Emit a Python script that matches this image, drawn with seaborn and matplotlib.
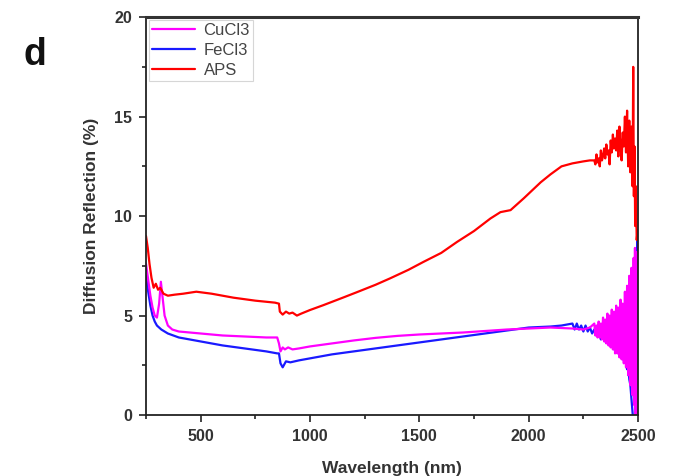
import matplotlib
matplotlib.use("Agg")
import matplotlib.pyplot as plt
import seaborn as sns
import pandas as pd
from matplotlib.ticker import MultipleLocator

# ---- data ----
aps_x = [250, 258, 266, 275, 285, 295, 305, 315, 330, 350, 380, 420, 480, 550, 650, 750, 840,
         858, 862, 875, 890, 905, 920, 940, 960, 1000, 1060, 1150, 1213, 1300, 1366, 1450, 1519,
         1600, 1672, 1750, 1825, 1871, 1917, 1978, 2055, 2100, 2150, 2200, 2250, 2280,
         2300, 2305, 2310, 2315, 2320, 2325, 2330, 2335, 2340, 2345, 2350, 2355, 2360, 2365, 2370,
         2375, 2380, 2385, 2390, 2395, 2400, 2405, 2410, 2415, 2420, 2425, 2430, 2435, 2440, 2445,
         2450, 2455, 2460, 2465, 2470, 2475, 2478, 2481, 2484, 2487, 2490, 2494, 2498]
aps_y = [9.0, 8.4, 7.6, 6.9, 6.4, 6.6, 6.3, 6.4, 6.1, 6.0, 6.05, 6.1, 6.2, 6.1, 5.9, 5.75, 5.65,
         5.6, 5.2, 5.05, 5.2, 5.1, 5.15, 5.0, 5.1, 5.28, 5.52, 5.9, 6.17, 6.55, 6.87, 7.3, 7.7,
         8.15, 8.7, 9.25, 9.88, 10.2, 10.3, 10.9, 11.7, 12.1, 12.5, 12.65, 12.75, 12.8,
         12.8, 12.6, 13.1, 12.7, 12.9, 12.5, 13.3, 12.8, 13.0, 13.4, 12.9, 13.6, 13.1, 13.3, 12.6,
         13.8, 13.2, 14.1, 13.4, 13.9, 13.3, 14.3, 13.0, 14.5, 13.6, 12.8, 14.2, 13.5, 15.0, 13.2,
         15.3, 12.5, 14.8, 12.2, 14.5, 11.5, 17.5, 11.0, 13.5, 9.5, 11.5, 8.8, 9.3]

cu_x = [250, 260, 270, 280, 290, 300, 310, 318, 325, 335, 350, 370, 400, 500, 600, 700, 800, 850,
        858, 865, 875, 885, 900, 920, 950, 1000, 1100, 1200, 1300, 1400, 1500, 1700, 1900, 2000,
        2100, 2200, 2250,
        2280, 2300, 2305, 2310, 2315, 2320, 2325, 2330, 2335, 2340, 2345, 2350, 2355, 2360, 2365,
        2370, 2375, 2380, 2385, 2390, 2395, 2400, 2405, 2410, 2415, 2420, 2425, 2430, 2435, 2440,
        2445, 2450, 2455, 2460, 2465, 2470, 2475, 2480, 2483, 2486, 2489, 2492, 2495]
cu_y = [7.6, 6.8, 6.0, 5.4, 5.0, 4.9, 5.6, 6.7, 6.0, 5.0, 4.5, 4.3, 4.2, 4.1, 4.0, 3.95, 3.9, 3.9,
        3.6, 3.2, 3.4, 3.3, 3.4, 3.3, 3.35, 3.45, 3.6, 3.75, 3.88, 3.98, 4.05, 4.15, 4.3, 4.35,
        4.4, 4.35, 4.3,
        4.4, 4.6, 4.0, 4.5, 3.9, 4.7, 3.9, 4.6, 3.8, 4.9, 3.7, 4.8, 3.6, 5.1, 3.5,
        5.0, 3.4, 5.3, 3.3, 5.2, 3.1, 5.5, 3.1, 5.4, 2.9, 5.8, 2.8, 5.6, 2.6, 6.2,
        2.4, 6.5, 2.0, 7.0, 1.5, 7.4, 1.0, 7.9, 0.5, 8.4, 0.0, 8.2, 0.0]

fe_x = [250, 260, 270, 280, 290, 300, 320, 350, 400, 500, 600, 700, 800, 850, 858, 865, 875, 890,
        910, 950, 1000, 1100, 1200, 1300, 1400, 1500, 1600, 1700, 1800, 1900, 2000, 2100, 2150,
        2200, 2210, 2220, 2230, 2240,
        2250, 2260, 2270, 2280, 2290, 2300, 2310, 2320, 2330, 2340, 2350, 2360, 2370, 2380, 2390,
        2400, 2410, 2420, 2430, 2440, 2450, 2455, 2460, 2465, 2470, 2476, 2494, 2496]
fe_y = [7.0, 6.2, 5.5, 5.0, 4.7, 4.5, 4.3, 4.1, 3.9, 3.7, 3.5, 3.35, 3.2, 3.1, 3.1, 2.6, 2.4, 2.7,
        2.65, 2.75, 2.85, 3.05, 3.2, 3.35, 3.5, 3.65, 3.8, 3.95, 4.1, 4.25, 4.4, 4.45, 4.5,
        4.6, 4.3, 4.6, 4.3, 4.5,
        4.2, 4.5, 4.2, 4.4, 4.1, 4.3, 4.0, 4.2, 3.8, 4.1, 3.7, 3.9, 3.5, 3.8, 3.3,
        3.6, 3.1, 3.4, 2.8, 3.0, 2.3, 2.6, 1.8, 1.5, 0.8, 0.0, 0.0, 9.3]

df_cu = pd.DataFrame({"x": cu_x, "y": cu_y})
df_fe = pd.DataFrame({"x": fe_x, "y": fe_y})
df_aps = pd.DataFrame({"x": aps_x, "y": aps_y})

sns.set_style("ticks")
plt.rcParams["font.family"] = ["Liberation Sans", "DejaVu Sans"]

fig = plt.figure(figsize=(6.81, 4.76), dpi=100)
ax = fig.add_axes([0.2144, 0.128, 0.7225, 0.836])

sns.lineplot(data=df_fe, x="x", y="y", ax=ax, color="#1a1aff", lw=1.6,
             estimator=None, sort=False, label="FeCl3")
sns.lineplot(data=df_cu, x="x", y="y", ax=ax, color="#ff00ff", lw=1.6,
             estimator=None, sort=False, label="CuCl3")
sns.lineplot(data=df_aps, x="x", y="y", ax=ax, color="#ff0000", lw=1.6,
             estimator=None, sort=False, label="APS")

ax.set_xlim(250, 2500)
ax.set_ylim(0, 20)
ax.xaxis.set_major_locator(MultipleLocator(500))
ax.xaxis.set_minor_locator(MultipleLocator(250))
ax.yaxis.set_major_locator(MultipleLocator(5))
ax.yaxis.set_minor_locator(MultipleLocator(2.5))
ax.tick_params(which="both", direction="out", colors="#222222", width=1.2)
ax.tick_params(which="major", length=5, labelsize=11.5, pad=5)
ax.tick_params(which="minor", length=3)
for lab in ax.get_xticklabels() + ax.get_yticklabels():
    lab.set_fontweight("bold")
    lab.set_color("#333333")

for s in ["left", "right", "bottom"]:
    ax.spines[s].set_linewidth(1.3)
    ax.spines[s].set_color("#222222")
ax.spines["top"].set_linewidth(2.2)
ax.spines["top"].set_color("#333333")

ax.set_xlabel("Wavelength (nm)", fontsize=12.5, fontweight="bold", color="#333333", labelpad=12)
ax.set_ylabel("Diffusion Reflection (%)", fontsize=12.5, fontweight="bold", color="#333333", labelpad=11)

handles, labels = ax.get_legend_handles_labels()
order = [labels.index(l) for l in ["CuCl3", "FeCl3", "APS"]]
leg = ax.legend([handles[i] for i in order], [labels[i] for i in order],
                loc="upper left", borderaxespad=0.15, fontsize=12, frameon=True,
                fancybox=False, edgecolor="#cccccc", handlelength=2.6, handletextpad=0.5,
                labelspacing=0.3, borderpad=0.2)
leg.get_frame().set_linewidth(0.8)
for t in leg.get_texts():
    t.set_color("#444444")

fig.text(0.035, 0.863, "d", fontsize=27, fontweight="bold", color="#111111")

fig.savefig("out.png", dpi=100)
